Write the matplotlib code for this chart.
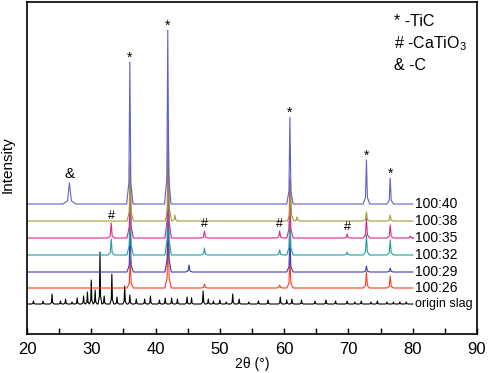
import matplotlib.pyplot as plt
import numpy as np

plt.rcParams['font.family'] = ['Liberation Sans', 'DejaVu Sans']
plt.rcParams['mathtext.fontset'] = 'custom'
plt.rcParams['mathtext.rm'] = 'Liberation Sans'
plt.rcParams['mathtext.default'] = 'regular'

# sample names, bottom to top
samples = ['origin slag', '100:26', '100:29', '100:32', '100:35', '100:38', '100:40']
colors = ['black', '#ff3c1e', '#3c3cb4', '#1fa0a0', '#e0288c', '#a0a032', '#6060c8']
offsets = [30, 46, 62, 79, 96, 113, 130]

# peak positions (2theta) and heights above each baseline
pos_slag = [21.0, 22.5, 23.9, 25.2, 26.0, 27.0, 27.8, 28.8, 29.4, 30.0, 30.6, 31.35, 32.0,
            33.2, 34.0, 35.2, 36.0, 37.0, 38.3, 39.2, 40.6, 41.5, 42.5, 43.4, 44.9,
            45.6, 47.4, 48.2, 49.0, 50.0, 51.0, 52.0, 53.0, 54.5, 56.0, 57.5, 59.4,
            60.4, 61.2, 62.7, 64.8, 66.5, 68.0, 69.8, 71.0, 72.0, 73.5, 74.5, 76.0,
            77.0, 78.0, 79.0]
hts_slag = [3, 3, 10, 3, 5, 2, 6, 8, 12, 24, 14, 52, 8,
            30, 7, 18, 9, 5, 5, 8, 4, 6, 6, 5, 7,
            6, 13, 5, 3, 4, 2, 10, 5, 2, 3, 4, 7,
            4, 5, 4, 3, 4, 3, 3, 2, 3, 2, 3, 2,
            2, 2, 2]
pos_26 = [36.05, 41.95, 47.6, 59.3, 60.9, 72.8, 76.5]
hts_26 = [30, 70, 4, 3, 30, 16, 12]
pos_29 = [36.05, 41.95, 45.2, 60.9, 72.8, 76.5]
hts_29 = [45, 85, 7, 35, 6, 4]
pos_32 = [33.1, 36.05, 41.95, 47.6, 59.3, 60.9, 69.8, 72.8, 76.5]
hts_32 = [16, 65, 100, 7, 5, 50, 3, 20, 15]
pos_35 = [33.1, 36.05, 41.95, 47.6, 59.3, 60.9, 69.8, 72.8, 76.5, 79.6]
hts_35 = [15, 75, 115, 7, 7, 60, 4, 20, 13, 2]
pos_38 = [36.05, 42.0, 43.0, 61.0, 62.0, 72.8, 76.5]
hts_38 = [60, 80, 6, 40, 4, 9, 6]
pos_40 = [26.6, 36.0, 41.9, 60.9, 72.8, 76.5]
hts_40 = [21, 142, 174, 87, 44, 26]

tic_peaks = [36.0, 41.9, 60.9, 72.8, 76.5]
cto_peaks = [33.1, 47.6, 59.3, 69.8]
c_peaks = [26.6]

peak_pos = [pos_slag, pos_26, pos_29, pos_32, pos_35, pos_38, pos_40]
peak_hts = [hts_slag, hts_26, hts_29, hts_32, hts_35, hts_38, hts_40]


def trace(pos, hts, w):
    xs, ys = [20.0], [0.0]
    for p, h in zip(pos, hts):
        ww = w * 2.0 if h < 25 and p < 30 and w > 0.4 else w
        xs += [p - ww, p - 0.3 * ww, p, p + 0.3 * ww, p + ww]
        ys += [0, 0.15 * h, h, 0.15 * h, 0]
    xs.append(80.0)
    ys.append(0.0)
    return np.array(xs), np.array(ys)


fig = plt.figure(figsize=(4.88, 3.73), dpi=100)
ax = fig.add_axes([27 / 488, 1 - 334 / 373, 450 / 488, 332 / 373])

for i, name in enumerate(samples):
    w = 0.3 if name == 'origin slag' else 0.5
    xs, ys = trace(peak_pos[i], peak_hts[i], w)
    ax.plot(xs, ys + offsets[i], color=colors[i], lw=0.8)
    fs = 9 if name == 'origin slag' else 10
    ax.text(80.4, offsets[i], name, va='center', ha='left', fontsize=fs)

# phase markers
top = offsets[-1]
for p in tic_peaks:
    h = hts_40[pos_40.index(p)]
    ax.text(p, top + h - 3, '*', ha='center', va='bottom', fontsize=10)
for p in c_peaks:
    h = hts_40[pos_40.index(p)]
    ax.text(p, top + h + 2, '&', ha='center', va='bottom', fontsize=11)
for p in cto_peaks:
    h = hts_35[pos_35.index(p)]
    ax.text(p, offsets[4] + h + 1, '#', ha='center', va='bottom', fontsize=9)

ax.text(77.1, 312, '* -TiC', va='center', fontsize=11.5)
ax.text(77.1, 290, '# -CaTiO$_3$', va='center', fontsize=11.5)
ax.text(77.1, 269, '& -C', va='center', fontsize=11.5)

ax.set_xlim(20, 90)
ax.set_ylim(0, 332)
ax.set_xticks([20, 30, 40, 50, 60, 70, 80, 90])
ax.set_xticks([25, 35, 45, 55, 65, 75, 85], minor=True)
ax.set_yticks([])
ax.tick_params(axis='x', which='both', direction='in', length=4, width=1,
               labelsize=12, pad=6)
for s in ax.spines.values():
    s.set_linewidth(1.2)

ax.set_xlabel('2θ (°)', fontsize=10)
ax.xaxis.set_label_coords(0.5, -0.068)
ax.set_ylabel('Intensity', fontsize=11)
ax.yaxis.set_label_coords(-0.028, 0.51)

fig.savefig('out.png', dpi=100)
